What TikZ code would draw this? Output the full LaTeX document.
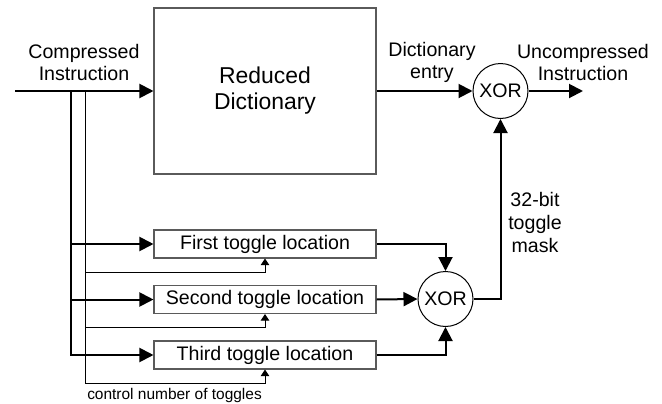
\documentclass[tikz,border=0pt]{standalone}
\usepackage{fontspec}
\setmainfont{Liberation Sans}
\usetikzlibrary{arrows.meta}

\begin{document}
\begin{tikzpicture}[x=0.75pt,y=0.75pt,yscale=-1,xscale=1,
  lbl/.style={font=\fontsize{14.7}{16.5}\selectfont, align=center, inner sep=0.75pt},
  blk/.style={draw={rgb,255:red,90;green,90;blue,90}, line width=0.8pt, inner sep=0pt, font=\fontsize{14.7}{16.5}\selectfont},
  xorgate/.style={circle, draw, line width=0.75pt, minimum size=41.25pt, inner sep=0pt, font=\fontsize{14.7}{16.5}\selectfont},
  bus/.style={line width=1.5pt, -{Triangle[length=10.5pt,width=10.5pt]}},
  ctl/.style={line width=0.75pt, -{Triangle[length=5pt,width=6.5pt]}}]
\useasboundingbox (0,0) rectangle (662,404);

%Shape: Reduced dictionary
\node [blk, minimum width=166.5pt, minimum height=124.5pt, align=center,
  font=\fontsize{17.2}{19.5}\selectfont] (dict) at (265,91) {Reduced\\Dictionary};
%Shape: toggle location boxes
\node [blk, minimum width=166.5pt, minimum height=21pt] (tgl1) at (265,244) {First toggle location};
\node [blk, minimum width=166.5pt, minimum height=21pt] (tgl2) at (265,299.5) {Second toggle location};
\node [blk, minimum width=166.5pt, minimum height=21pt] (tgl3) at (265,355) {Third toggle location};
%Shape: XOR gates
\node [xorgate] (xorout) at (500.5,91) {XOR};
\node [xorgate] (xormask) at (445.5,299) {XOR};

%Coordinates for free ends and splits
\coordinate (in) at (15,91);
\coordinate (out) at (583,91);
\coordinate (trunk) at (71,91);
\coordinate (ctrl) at (85,91);
\coordinate (ctrl1) at (85,272);
\coordinate (ctrl2) at (85,327);
\coordinate (ctrl3) at (85,383);

%Connectors: main path
\draw [bus] (in) -- (dict.west);
\draw [bus] (dict.east) -- (xorout.west);
\draw [bus] (xorout.east) -- (out);
%Connectors: toggle locations
\draw [bus] (trunk) |- (tgl1.west);
\draw [bus] (trunk) |- (tgl2.west);
\draw [bus] (trunk) |- (tgl3.west);
\draw [bus] (tgl1.east) -| (xormask.north);
\draw [bus] (tgl2.east) -- (xormask.west);
\draw [bus] (tgl3.east) -| (xormask.south);
\draw [bus] (xormask.east) -| (xorout.south);
%Connectors: control number of toggles
\draw [line width=0.75pt] (ctrl) -- (ctrl3);
\draw [ctl] (ctrl1) -| (tgl1.south);
\draw [ctl] (ctrl2) -| (tgl2.south);
\draw [ctl] (ctrl3) -| (tgl3.south);

% Text Node
\node [lbl] (lblin) at (84,62.5) {Compressed\\Instruction};
% Text Node
\node [lbl] (lblentry) at (432,62.5) {Dictionary\\entry};
% Text Node
\node [lbl] (lblout) at (583,62.5) {Uncompressed\\Instruction};
% Text Node
\node [lbl, font=\fontsize{14.7}{17.25}\selectfont] (lblmask) at (535,222) {32-bit\\toggle\\mask};
% Text Node
\node [lbl, font=\fontsize{11.6}{13}\selectfont, anchor=west] (lblctl) at (86,395) {control number of toggles};

\end{tikzpicture}
\end{document}
